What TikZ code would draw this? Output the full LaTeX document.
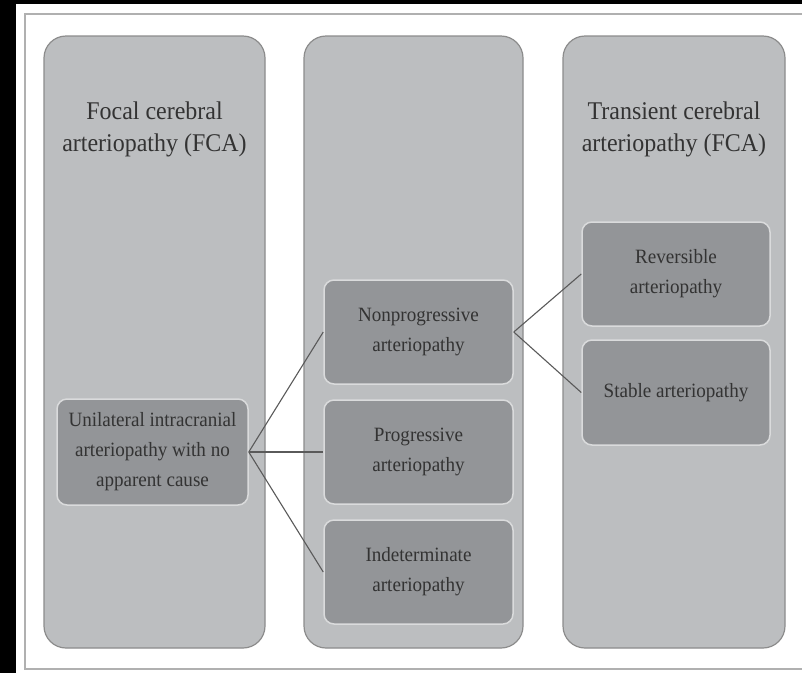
\documentclass[tikz,border=0pt]{standalone}
\usepackage{fontspec}
\setmainfont{Liberation Serif}
\newfontfamily\narrowserif[FakeStretch=0.94]{Liberation Serif}
\definecolor{panelfill}{HTML}{BCBEC0}
\definecolor{paneldraw}{HTML}{8C8C8C}
\definecolor{boxfill}{HTML}{939598}
\definecolor{boxdraw}{HTML}{DADBDC}
\definecolor{txt}{HTML}{333333}
\definecolor{linkc}{HTML}{5A5A5A}
\definecolor{frame}{HTML}{B0B0B0}
\tikzset{
  panel/.style={draw=paneldraw, line width=1.2pt, fill=panelfill, rounded corners=22pt,
    minimum height=612pt, inner sep=0pt, rectangle},
  title/.style={text=txt, align=center, font=\narrowserif\fontsize{25.5}{32}\selectfont, inner sep=0pt},
  itembox/.style={draw=boxdraw, line width=1.5pt, fill=boxfill, rounded corners=10pt,
    text=txt, align=center, font=\narrowserif\fontsize{20.3}{30}\selectfont, inner sep=0pt, rectangle},
  link/.style={draw=linkc, line width=1.1pt}
}
\begin{document}
\begin{tikzpicture}[x=1pt, y=-1pt]
\useasboundingbox (0,0) rectangle (802,673);
\fill[white] (0,0) rectangle (802,673);
\fill[black] (0,0) rectangle (802,4);
\fill[black] (0,0) rectangle (16,673);
\draw[frame, line width=1.5pt] (803,14) -- (25,14) -- (25,669) -- (803,669);

% panels
\node[panel, minimum width=221pt] (pl) at (154.5,342) {};
\node[panel, minimum width=219pt] (pm) at (413.5,342) {};
\node[panel, minimum width=222pt] (pr) at (674,342) {};

% titles
\node[title] (tl) at (154.5,129) {Focal cerebral\\arteriopathy (FCA)};
\node[title] (tr) at (674,129) {Transient cerebral\\arteriopathy (FCA)};

% boxes
\node[itembox, minimum width=191pt, minimum height=106pt] (ua) at (152.5,452)
  {Unilateral intracranial\\arteriopathy with no\\apparent cause};
\node[itembox, minimum width=189pt, minimum height=104pt] (np) at (418.5,332)
  {Nonprogressive\\arteriopathy};
\node[itembox, minimum width=189pt, minimum height=104pt] (pg) at (418.5,452)
  {Progressive\\arteriopathy};
\node[itembox, minimum width=189pt, minimum height=104pt] (id) at (418.5,572)
  {Indeterminate\\arteriopathy};
\node[itembox, minimum width=188pt, minimum height=104pt] (rv) at (676,274)
  {Reversible\\arteriopathy};
\node[itembox, minimum width=188pt, minimum height=105pt] (st) at (676,392.5)
  {Stable arteriopathy};

% connectors
\draw[link] (ua.east) -- (np.west);
\draw[link] (ua.east) -- (pg.west);
\draw[link] (ua.east) -- (id.west);
\draw[link] (np.east) -- (rv.west);
\draw[link] (np.east) -- (st.west);
\end{tikzpicture}
\end{document}
